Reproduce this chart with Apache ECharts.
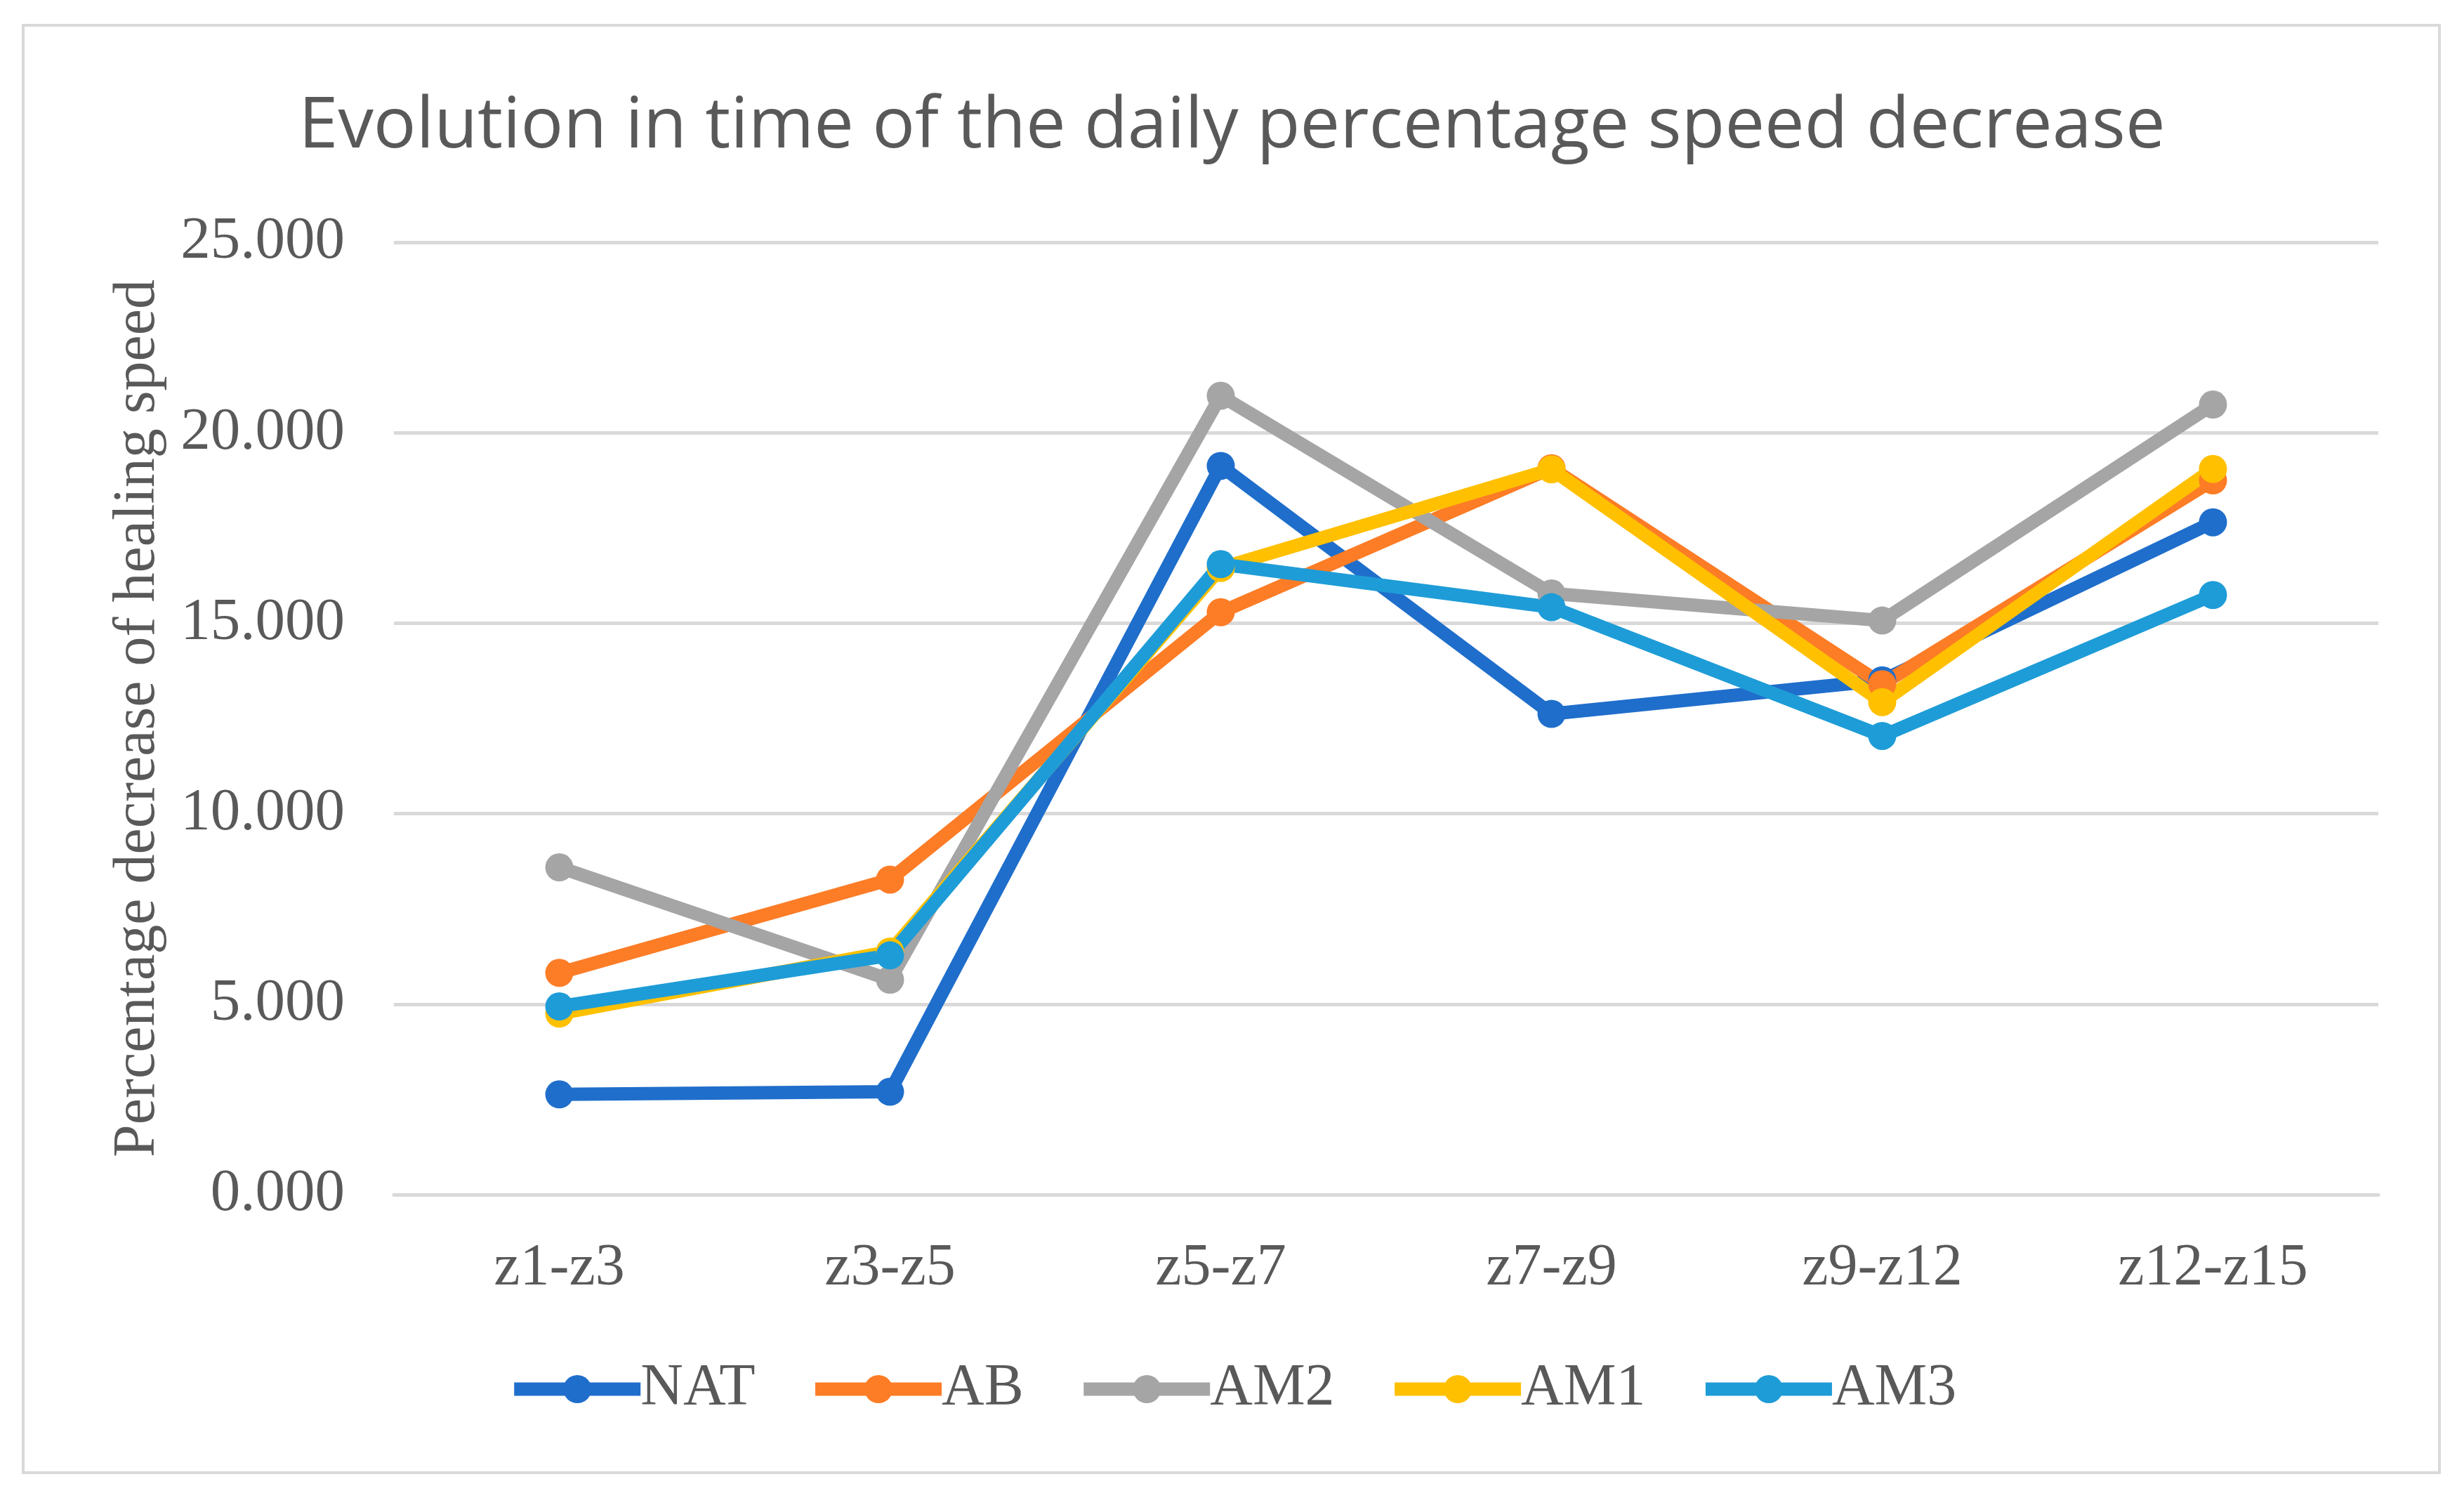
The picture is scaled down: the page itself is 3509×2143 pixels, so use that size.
<!DOCTYPE html>
<html>
<head>
<meta charset="utf-8">
<script src="https://cdn.jsdelivr.net/npm/echarts@6/dist/echarts.min.js"></script>
<style>
html,body{margin:0;padding:0;background:#fff;}
#chart{width:3509px;height:2143px;}
</style>
</head>
<body>
<div id="chart"></div>
<script>
var categories = ['z1-z3', 'z3-z5', 'z5-z7', 'z7-z9', 'z9-z12', 'z12-z15'];
var NAT = [2.63, 2.70, 19.13, 12.62, 13.50, 17.65];
var AB  = [5.82, 8.27, 15.29, 19.07, 13.40, 18.75];
var AM2 = [8.59, 5.64, 20.97, 15.78, 15.07, 20.74];
var AM1 = [4.75, 6.38, 16.45, 19.04, 12.93, 19.05];
var AM3 = [4.94, 6.28, 16.55, 15.42, 12.04, 15.74];
var seriesNames = ['NAT', 'AB', 'AM2', 'AM1', 'AM3'];
var seriesData = [NAT, AB, AM2, AM1, AM3];
var colors = ['#1f6ecb', '#fd7c26', '#a5a5a5', '#ffc000', '#1e9cd7'];

var chart = echarts.init(document.getElementById('chart'));
var serif = 'Liberation Serif';
var option = {
  backgroundColor: '#ffffff',
  animation: false,
  color: colors,
  title: {
    text: 'Evolution in time of the daily percentage speed decrease',
    left: 'center',
    top: 126,
    textStyle: { fontFamily: 'Open Sans', fontSize: 101, fontWeight: 'normal', color: '#595959' }
  },
  graphic: [{
    type: 'rect',
    shape: { x: 33, y: 36, width: 3441, height: 2061 },
    style: { fill: 'none', stroke: '#d9d9d9', lineWidth: 4 },
    silent: true
  }],
  grid: { left: 561, right: 122, top: 345, bottom: 442 },
  legend: {
    data: seriesNames,
    top: 1931,
    left: 'center',
    itemWidth: 180,
    itemHeight: 50,
    itemGap: 76,
    lineStyle: { width: 19 },
    textStyle: { fontFamily: serif, fontSize: 84, color: '#595959', padding: [0, 0, 0, -5] }
  },
  xAxis: {
    type: 'category',
    data: categories,
    boundaryGap: true,
    axisLine: { show: true, lineStyle: { color: '#d9d9d9', width: 5 } },
    axisTick: { show: false },
    axisLabel: { fontFamily: serif, fontSize: 84, color: '#595959', margin: 64 }
  },
  yAxis: {
    type: 'value',
    min: 0,
    max: 25,
    interval: 5,
    name: 'Percentage decrease of healing speed',
    nameLocation: 'middle',
    nameGap: 322,
    nameTextStyle: { fontFamily: serif, fontSize: 84, color: '#595959' },
    axisLine: { show: false },
    axisTick: { show: false },
    splitLine: { lineStyle: { color: '#d9d9d9', width: 5 } },
    axisLabel: {
      fontFamily: serif, fontSize: 85, color: '#595959', margin: 70,
      formatter: function (v) { return v.toFixed(3); }
    }
  },
  series: seriesNames.map(function (n, i) {
    return {
      name: n,
      type: 'line',
      data: seriesData[i],
      symbol: 'circle',
      symbolSize: 40,
      lineStyle: { width: 19, color: colors[i] },
      itemStyle: { color: colors[i] }
    };
  })
};
chart.setOption(option);
</script>
</body>
</html>
